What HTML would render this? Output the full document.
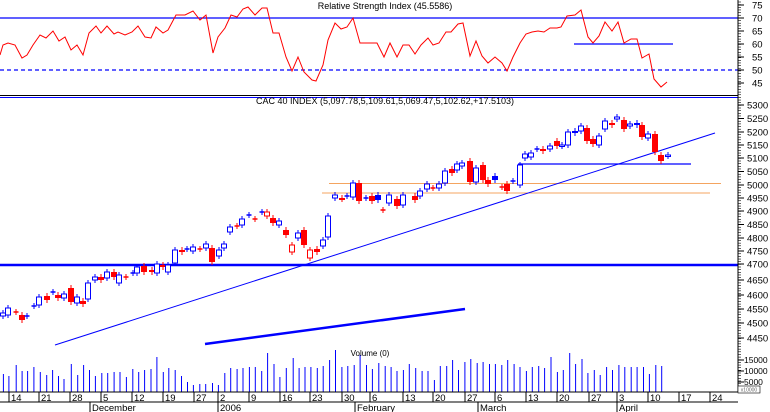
<!DOCTYPE html>
<html><head><meta charset="utf-8"><style>
html,body{margin:0;padding:0;background:#fff;}
svg{display:block;font-family:"Liberation Sans",sans-serif;}
</style></head><body>
<svg id="c" width="770" height="412" viewBox="0 0 770 412" xmlns="http://www.w3.org/2000/svg">
<rect width="770" height="412" fill="#fff"/>
<text x="385" y="9" font-size="9" text-anchor="middle" fill="#000">Relative Strength Index (45.5586)</text>
<line x1="0" y1="18" x2="738" y2="18" stroke="#0000ff" stroke-width="1.3"/>
<line x1="0" y1="70" x2="738" y2="70" stroke="#0000ff" stroke-width="1.2" stroke-dasharray="4,3"/>
<line x1="574" y1="44" x2="673" y2="44" stroke="#0000ff" stroke-width="1.3"/>
<line x1="0" y1="95.5" x2="738" y2="95.5" stroke="#000" stroke-width="1"/>
<line x1="0" y1="97.5" x2="738" y2="97.5" stroke="#0000ff" stroke-width="1"/>
<text x="385" y="104" font-size="9" text-anchor="middle" fill="#000">CAC 40 INDEX (5,097.78,5,109.61,5,069.47,5,102.62,+17.5103)</text>
<line x1="322" y1="193" x2="710" y2="193" stroke="#f4a460" stroke-width="1"/>
<line x1="329" y1="183.5" x2="721" y2="183.5" stroke="#f4a460" stroke-width="1"/>
<line x1="518" y1="164" x2="691" y2="164" stroke="#0000ff" stroke-width="1.2"/>
<line x1="0" y1="265" x2="738" y2="265" stroke="#0000ff" stroke-width="2.5"/>
<line x1="55" y1="345" x2="715" y2="133" stroke="#0000ff" stroke-width="1"/>
<line x1="205" y1="344" x2="465" y2="309" stroke="#0000ff" stroke-width="2.5"/>
<g id="candles"></g>
<g id="vol"></g>
<text x="370" y="356" font-size="8" text-anchor="middle" fill="#000">Volume (0)</text>
<line x1="738" y1="0" x2="738" y2="392" stroke="#000" stroke-width="1"/>
<g id="axis" font-size="9.5" fill="#000"></g>
<rect x="738" y="386" width="22" height="7" fill="#fff" stroke="#000" stroke-width="0.6"/>
<text x="749" y="391.5" font-size="5" text-anchor="middle" fill="#666">x10000</text>
<line x1="0" y1="392" x2="738" y2="392" stroke="#000" stroke-width="1"/>
<line x1="0" y1="402" x2="738" y2="402" stroke="#000" stroke-width="1"/>
<g id="dates" font-size="9.5" fill="#000"></g>
<polyline id="rsi" fill="none" stroke="#ff0000" stroke-width="1"/>
</svg>
<script>
var NS="http://www.w3.org/2000/svg";
function el(p,t,a,txt){var e=document.createElementNS(NS,t);for(var k in a)e.setAttribute(k,a[k]);if(txt!==undefined)e.textContent=txt;p.appendChild(e);return e;}
var rsi=[[0,55],[3,45],[8,43],[15,45],[22,58],[27,55],[33,45],[40,35],[46,38],[53,31],[59,41],[65,37],[71,50],[77,45],[83,55],[89,33],[96,26],[101,33],[107,26],[114,34],[118,32],[125,35],[132,32],[138,26],[145,37],[151,38],[156,27],[163,33],[168,30],[176,15],[185,15],[193,11],[200,20],[206,15],[213,53],[218,37],[225,28],[231,15],[237,17],[243,9],[248,7],[255,15],[262,8],[267,8],[273,33],[279,33],[286,57],[292,71],[298,57],[304,72],[312,80],[316,81],[323,65],[328,40],[335,23],[341,29],[347,27],[353,18],[360,43],[367,43],[377,43],[384,57],[390,43],[397,57],[403,45],[409,45],[415,54],[421,45],[428,38],[433,45],[439,43],[446,32],[451,32],[458,24],[463,23],[470,56],[476,41],[482,56],[488,63],[495,57],[502,63],[507,71],[513,57],[520,43],[526,34],[532,32],[538,31],[544,32],[550,28],[557,28],[561,27],[567,16],[575,15],[581,10],[588,37],[593,43],[599,36],[605,22],[612,31],[618,22],[624,43],[631,39],[637,39],[642,58],[649,54],[654,79],[661,87],[667,82]];
document.getElementById('rsi').setAttribute('points',rsi.map(function(p){return p.join(',')}).join(' '));
var C=[[3,313,316,'bh'],[8,308,315,'bh'],[16,312,312,'rc'],[22,315,320,'r'],[27,316,316,'bc'],[34,306,306,'bc'],[39,297,305,'bh'],[47,296,300,'r'],[53,292,292,'bc'],[58,295,298,'r'],[64,294,298,'bh'],[71,288,302,'r'],[77,297,303,'bh'],[83,301,304,'r'],[88,283,299,'bh'],[95,277,280,'bh'],[101,277,280,'r'],[107,272,278,'bh'],[114,272,277,'r'],[119,275,283,'bh'],[126,277,277,'rc'],[133,273,273,'bc'],[137,267,273,'bh'],[144,266,272,'r'],[152,270,272,'r'],[157,264,273,'bh'],[163,265,267,'r'],[168,265,272,'bh'],[175,250,263,'bh'],[182,250,252,'r'],[187,249,249,'bc'],[193,247,251,'bh'],[200,249,249,'rc'],[206,244,248,'bh'],[212,248,262,'r'],[219,250,256,'bh'],[224,244,248,'bh'],[230,227,232,'bh'],[237,226,226,'rc'],[242,219,225,'bh'],[249,215,215,'bc'],[255,219,219,'rc'],[262,212,212,'bc'],[267,212,216,'rh'],[273,218,223,'r'],[279,221,225,'bh'],[286,230,235,'r'],[292,245,252,'rh'],[298,233,238,'bh'],[304,230,245,'r'],[310,250,258,'rh'],[317,249,252,'r'],[323,240,246,'bh'],[328,216,237,'bh'],[335,195,198,'bh'],[342,198,199,'r'],[347,196,196,'bc'],[353,183,197,'bh'],[359,183,201,'r'],[366,198,198,'bc'],[372,196,201,'r'],[378,195,200,'bf'],[383,210,210,'rc'],[389,195,203,'bh'],[397,199,206,'r'],[403,195,205,'bh'],[415,196,200,'r'],[420,191,196,'bh'],[427,184,189,'bh'],[433,188,188,'rc'],[439,184,188,'bh'],[445,171,183,'bh'],[452,169,173,'r'],[457,164,170,'bh'],[462,163,166,'bh'],[470,161,182,'r'],[476,168,182,'bh'],[483,165,180,'r'],[488,180,184,'r'],[495,176,180,'bf'],[502,187,187,'rc'],[507,184,191,'r'],[513,181,181,'bc'],[520,165,185,'bh'],[525,154,158,'bh'],[531,153,157,'bh'],[537,149,149,'bc'],[543,149,151,'r'],[550,146,149,'bh'],[557,141,146,'r'],[562,145,146,'bh'],[568,132,145,'bh'],[575,131,133,'bf'],[581,126,131,'bh'],[587,128,141,'r'],[593,139,144,'r'],[599,136,145,'bh'],[605,121,129,'bh'],[612,123,125,'r'],[617,117,119,'bh'],[624,120,129,'r'],[630,124,126,'bh'],[637,123,125,'bf'],[642,125,137,'r'],[648,134,138,'bh'],[655,134,152,'r'],[661,155,161,'r'],[668,155,156,'bh']];
var g=document.getElementById('candles');
C.forEach(function(c){var x=c[0],t=c[1],b=c[2],ty=c[3];var col=ty[0]=='b'?'#0000ff':'#ff0000';
el(g,'line',{x1:x,y1:t-3,x2:x,y2:b+3,stroke:col,'stroke-width':1});
if(ty=='bc'||ty=='rc'){el(g,'line',{x1:x-2.5,y1:t,x2:x+2.5,y2:t,stroke:col,'stroke-width':1.5});}
else if(ty=='bh'||ty=='rh'){el(g,'rect',{x:x-2.5,y:t,width:5,height:Math.max(b-t,1.5),fill:'#fff',stroke:col,'stroke-width':1});}
else{el(g,'rect',{x:x-3,y:t,width:6,height:Math.max(b-t,2),fill:col});}
});
var V=[[7,132],[18,138],[33,105],[45,123],[56,123],[69,111],[82,126],[95,135],[107,120],[119,138],[130,147],[145,102],[158,135],[170,105],[182,120],[194,138],[207,129],[219,129],[232,126],[244,126],[257,141],[270,117],[282,126],[294,120],[307,117],[319,81],[332,126],[343,114],[356,120],[369,138],[381,156],[393,165],[406,162],[418,162],[432,159],[444,165],[457,129],[469,114],[482,117],[494,114],[507,111],[519,111],[532,123],[544,69],[557,102],[569,141],[582,114],[596,84],[608,114],[620,111],[632,111],[645,114],[657,108],[670,90],[682,60],[695,111],[707,108],[720,105],[732,75],[745,105],[757,117],[770,99],[783,108],[795,111],[807,123],[820,120],[832,102],[845,114],[858,123],[870,123],[883,150],[895,108],[908,108],[920,90],[932,120],[945,96],[957,87],[970,99],[982,96],[995,102],[1007,102],[1020,105],[1032,90],[1045,102],[1057,111],[1070,123],[1082,111],[1095,108],[1107,114],[1120,81],[1133,126],[1145,120],[1158,69],[1170,102],[1183,87],[1195,129],[1208,120],[1220,135],[1233,111],[1245,120],[1258,105],[1270,111],[1283,111],[1295,111],[1308,111],[1320,132],[1333,105],[1345,108]];
var vg=document.getElementById('vol');
V.forEach(function(v){var x=(v[0]*0.492).toFixed(1);el(vg,'line',{x1:x,y1:330+v[1]/3,x2:x,y2:392,stroke:'#0000ff','stroke-width':1});});
var ax=document.getElementById('axis');
for(var y=2;y<392;y+=2.65){el(ax,'line',{x1:738,y1:y,x2:741,y2:y,stroke:'#000','stroke-width':0.6});}
[[75,5],[70,18],[65,31],[60,44],[55,57],[50,70],[45,83]].forEach(function(r){el(ax,'line',{x1:738,y1:r[1],x2:744,y2:r[1],stroke:'#000'});el(ax,'text',{x:752,y:r[1]+3.5},r[0]);});
var P=[[5300,105],[5250,118.5],[5200,132],[5150,145],[5100,158],[5050,171.5],[5000,185],[4950,198],[4900,211],[4850,224.5],[4800,238],[4750,251],[4700,264],[4650,280],[4600,295],[4550,309],[4500,323],[4450,338]];
P.forEach(function(p){el(ax,'line',{x1:738,y1:p[1],x2:744,y2:p[1],stroke:'#000'});el(ax,'text',{x:747,y:p[1]+3.5},p[0]);});
[[15000,360],[10000,371],[5000,382]].forEach(function(p){el(ax,'line',{x1:738,y1:p[1],x2:744,y2:p[1],stroke:'#000'});el(ax,'text',{x:744,y:p[1]+3,'font-size':8.5},p[0]);});
var dg=document.getElementById('dates');
var W=[[9,14],[39,21],[70,28],[101,5],[132,12],[163,19],[194,27],[218,2],[249,9],[280,16],[310,23],[342,30],[370,6],[403,13],[433,20],[465,27],[495,6],[526,13],[557,20],[589,27],[617,3],[648,10],[679,17],[710,24]];
W.forEach(function(w){el(dg,'line',{x1:w[0],y1:392,x2:w[0],y2:402,stroke:'#000'});el(dg,'text',{x:w[0]+2,y:401},w[1]);});
[[90,'December'],[218,'2006'],[355,'February'],[478,'March'],[617,'April']].forEach(function(m){el(dg,'line',{x1:m[0],y1:402,x2:m[0],y2:412,stroke:'#000'});el(dg,'text',{x:m[0]+2,y:411},m[1]);});
</script>
</body></html>
